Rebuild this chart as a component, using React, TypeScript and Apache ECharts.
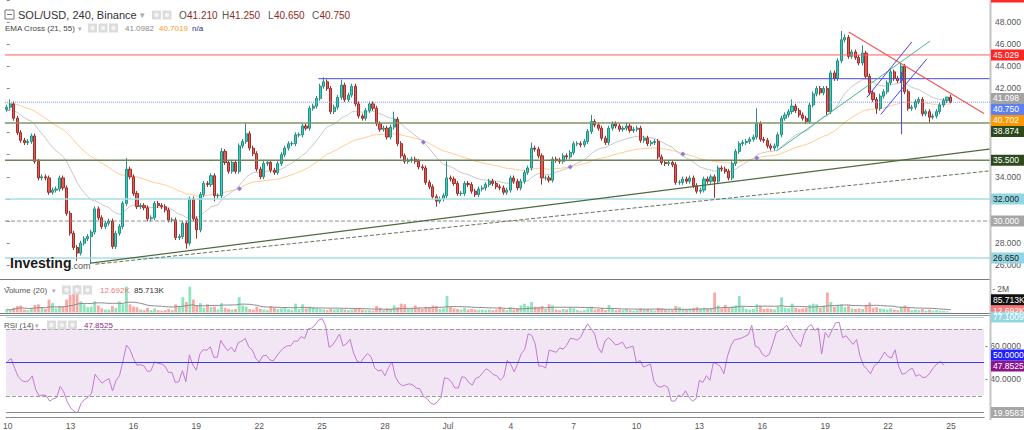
import React, { useEffect, useRef } from "react";
import * as echarts from "echarts";

// ---------- data ----------
const SLOTS = 280;
const START_UTC = Date.UTC(2021, 5, 10, 0, 0, 0);
const MONTHS = ["Jan", "Feb", "Mar", "Apr", "May", "Jun", "Jul", "Aug", "Sep", "Oct", "Nov", "Dec"];

const FIRST_OPEN = 40.1;
const closes = [
  40.3, 40.6, 39.3, 38.0, 37.3, 37.1, 37.2, 37.7, 35.4, 33.9,
  34.0, 33.9, 32.6, 32.8, 32.9, 33.9, 33.0, 30.7, 28.9, 27.6,
  27.1, 28.0, 28.4, 28.6, 29.0, 31.1, 30.3, 29.5, 29.8, 30.0,
  27.7, 28.9, 29.5, 31.6, 34.7, 34.0, 32.5, 31.3, 31.4, 31.2,
  30.2, 30.3, 31.6, 31.4, 31.3, 31.0, 30.1, 30.1, 28.5, 28.6,
  29.8, 28.0, 32.0, 30.2, 29.2, 32.4, 33.4, 33.3, 34.1, 32.3,
  32.3, 36.3, 35.3, 34.5, 35.3, 34.5, 36.8, 37.2, 37.9, 36.6,
  36.1, 34.7, 34.0, 35.2, 35.3, 34.6, 34.4, 35.2, 36.0, 36.6,
  37.0, 37.0, 37.8, 37.8, 38.6, 38.4, 40.2, 40.4, 41.1, 42.2,
  42.6, 42.0, 39.9, 40.3, 41.2, 42.3, 41.0, 41.4, 42.2, 40.6,
  39.5, 39.3, 40.0, 40.6, 40.2, 38.8, 38.3, 38.4, 37.6, 38.5,
  39.2, 37.0, 35.9, 35.4, 35.5, 35.6, 35.4, 34.9, 34.8, 33.5,
  33.1, 32.2, 31.8, 32.0, 32.3, 33.9, 33.8, 33.4, 32.5, 32.5,
  33.4, 33.3, 32.7, 32.4, 32.9, 33.0, 33.3, 33.6, 33.4, 33.1,
  33.0, 32.6, 32.8, 33.9, 33.6, 33.0, 33.6, 34.4, 34.8, 36.6,
  36.5, 35.9, 33.9, 33.9, 33.7, 35.6, 35.5, 35.4, 35.9, 35.8,
  36.2, 37.0, 37.0, 36.9, 37.2, 38.1, 39.0, 38.7, 38.4, 37.5,
  37.1, 38.4, 38.8, 38.6, 38.3, 38.4, 38.6, 38.2, 38.3, 38.4,
  37.3, 37.5, 37.0, 37.1, 37.2, 35.8, 35.3, 35.2, 35.3, 35.1,
  33.5, 33.5, 33.8, 33.6, 33.9, 33.2, 32.7, 32.8, 33.8, 33.6,
  34.0, 33.6, 34.8, 34.7, 34.5, 33.9, 35.2, 36.3, 37.0, 37.1,
  37.2, 37.4, 37.6, 38.8, 37.4, 37.3, 36.8, 36.6, 36.8, 37.8,
  39.3, 39.6, 39.9, 40.4, 40.0, 39.6, 39.3, 39.0, 40.5, 41.5,
  42.0, 41.6, 42.0, 39.9, 43.4, 42.9, 44.5, 46.4, 46.6, 44.9,
  45.3, 44.8, 44.3, 45.2, 43.1, 41.6, 41.0, 40.2, 41.3, 41.7,
  42.5, 43.5, 42.9, 42.7, 44.0, 41.7, 40.2, 40.3, 40.8, 41.0,
  39.7, 39.9, 39.4, 39.5, 39.9, 40.5, 40.9, 41.21, 40.75,
];
const WICK = 0.22;
const highs: Record<number, number> = {
  1: 41.0, 34: 35.7, 61: 36.6, 68: 38.9, 90: 43.0, 95: 42.8, 110: 39.9, 125: 35.4,
  149: 37.1, 166: 39.6, 176: 38.9, 213: 40.2, 223: 41.0, 237: 47.2, 238: 46.9,
  243: 45.9, 254: 44.3, 267: 41.25,
};
const lows: Record<number, number> = {
  20: 26.4, 24: 26.1, 51: 27.5, 54: 28.4, 59: 31.8, 122: 31.3, 152: 33.3, 201: 32.1,
  233: 39.6, 247: 39.7, 262: 38.9, 268: 40.65,
};
const volumes = [
  250, 200, 400, 550, 600, 250, 200, 350, 650, 700,
  450, 300, 1100, 800, 350, 550, 500, 1100, 1500, 1600,
  2300, 950, 700, 450, 500, 950, 600, 350, 250, 250,
  550, 400, 950, 700, 2200, 700, 500, 450, 250, 200,
  400, 200, 350, 200, 150, 200, 300, 200, 700, 500,
  1300, 900, 2200, 1100, 600, 800, 400, 700, 450, 500,
  250, 800, 400, 300, 250, 300, 1300, 600, 500, 300,
  250, 500, 300, 250, 200, 550, 400, 300, 350, 400,
  300, 200, 750, 300, 700, 350, 500, 450, 350, 300,
  250, 200, 300, 250, 300, 300, 250, 200, 250, 300,
  350, 250, 200, 200, 150, 550, 400, 200, 350, 300,
  600, 450, 750, 700, 300, 350, 600, 400, 300, 500,
  450, 600, 550, 300, 350, 1400, 500, 350, 300, 250,
  400, 250, 300, 250, 200, 250, 200, 250, 200, 250,
  500, 300, 200, 450, 250, 350, 600, 750, 550, 900,
  500, 450, 550, 300, 700, 600, 250, 200, 300, 250,
  450, 350, 200, 150, 200, 350, 500, 250, 300, 350,
  200, 650, 350, 200, 250, 200, 300, 200, 150, 200,
  350, 250, 300, 200, 150, 400, 350, 250, 200, 200,
  550, 450, 300, 250, 300, 350, 450, 300, 400, 300,
  350, 1700, 600, 350, 650, 400, 500, 600, 1400, 500,
  300, 250, 300, 700, 550, 300, 350, 300, 250, 500,
  1300, 400, 350, 750, 400, 300, 350, 400, 650, 750,
  700, 400, 600, 1700, 900, 500, 650, 700, 450, 600,
  350, 300, 350, 300, 650, 850, 400, 450, 350, 300,
  250, 350, 250, 200, 500, 600, 400, 200, 250, 200,
  300, 150, 250, 150, 200, 150, 150, 100, 12.692,
];
const EMA21_SEED = 40.0;
const EMA55_SEED = 40.7;
const RSI_SEED_GAIN = 0.45;
const RSI_SEED_LOSS = 0.45;

const priceTicksShown = [48, 46, 44, 42, 34, 28, 26];
const rsiTicksShown = [60, 40];

// drawings: [slotIndex, price]
const supportSolid = [[23.8, 26.19], [279.5, 36.53]];
const supportDashed = [[25.2, 26.1], [279.5, 34.55]];
const downTrend = [[239.1, 47.1], [277.5, 39.74]];
const tealTrend = [[218.6, 36.33], [262.2, 46.29]];
const blueChanA = [[244.2, 41.18], [257.0, 46.2]];
const blueChanB = [[248.2, 39.65], [261.3, 44.68]];
const blueVertical = [[254.1, 43.5], [254.1, 37.86]];
const blueLevel = { from: 88.5, price: 42.88 };
const crossMarks = [[66.1, 32.92], [118.3, 37.14], [160.0, 34.89], [192.0, 36.06], [213.0, 35.7]];

const levels = {
  red: 45.029, last: 40.75, olive1: 38.874, olive2: 35.5, cyan1: 32.0, gray: 30.0, cyan2: 26.65,
};
const ohlc = { o: "41.210", h: "41.250", l: "40.650", c: "40.750" };
const ema21Legend = "41.0982";
const ema55Legend = "40.7019";
const ema21Last = 41.098;
const ema55Last = 40.702;
const volLast = 12.692;
const volSmaLast = 85.713;
const rsiLast = 47.8525;
const rsiMax = 77.1009;
const rsiMin = 19.9583;

// ---------- derived ----------
const categories: string[] = [];
for (let i = 0; i < SLOTS; i++) {
  const d = new Date(START_UTC + i * 4 * 3600 * 1000);
  categories.push(`${d.getUTCMonth() + 1}-${d.getUTCDate()} ${d.getUTCHours()}`);
}
const opens = closes.map((c, i) => (i === 0 ? FIRST_OPEN : closes[i - 1]));
const candleData = closes.map((c, i) => {
  const o = opens[i];
  const h = highs[i] ?? Math.max(o, c) + WICK;
  const l = lows[i] ?? Math.min(o, c) - WICK;
  return [o, c, l, h];
});
function ema(n: number, seed: number) {
  const k = 2 / (n + 1);
  let e = seed;
  return closes.map((c) => (e = e + k * (c - e)));
}
const ema21 = ema(21, EMA21_SEED);
const ema55 = ema(55, EMA55_SEED);
const rsi = (() => {
  let ag = RSI_SEED_GAIN, al = RSI_SEED_LOSS, prev = FIRST_OPEN;
  return closes.map((c) => {
    const ch = c - prev;
    prev = c;
    ag = (ag * 13 + Math.max(ch, 0)) / 14;
    al = (al * 13 + Math.max(-ch, 0)) / 14;
    return 100 - 100 / (1 + ag / al);
  });
})();
const volSma = volumes.map((_, i) => {
  const w = volumes.slice(Math.max(0, i - 19), i + 1);
  return w.reduce((a, b) => a + b, 0) / w.length;
});

const GL = 4.94;
const GW = 3.5222 * SLOTS;
const FONT = "Liberation Sans, Arial, sans-serif";
const AXFS = 8.5;

const labelEvery = (idx: number) => idx % 18 === 0;
const dayLabel = (val: string) => {
  const [md] = val.split(" ");
  const [m, d] = md.split("-");
  return d === "1" ? MONTHS[+m - 1] : d;
};

const hline = (p: number, color: string, type = "solid", width = 1, from = -0.5) => ({
  type: "line", xAxisIndex: 1, yAxisIndex: 0, data: [[from, p], [SLOTS - 0.5, p]],
  symbol: "none", silent: true, z: 5, lineStyle: { color, width, type },
});
const seg = (pts: number[][], color: string, type = "solid", width = 1) => ({
  type: "line", xAxisIndex: 1, yAxisIndex: 0, data: pts, symbol: "none", silent: true, z: 6,
  lineStyle: { color, width, type },
});

const option: any = {
  animation: false,
  backgroundColor: "#ffffff",
  textStyle: { fontFamily: FONT },
  grid: [
    { left: GL, width: GW, top: 20.6 - 2 * 11.115, height: 26 * 11.115 },
    { left: GL, width: GW, top: 312.5 - 2600 * 0.01175, height: 2600 * 0.01175 },
    { left: GL, width: GW, top: 312.2, height: 102.6 },
  ],
  xAxis: [
    { type: "category", gridIndex: 0, data: categories, show: false },
    { type: "value", gridIndex: 0, min: -0.5, max: SLOTS - 0.5, show: false },
    { type: "category", gridIndex: 1, data: categories, show: false },
    {
      type: "category", gridIndex: 2, data: categories, position: "bottom", offset: 4.5,
      axisLine: { lineStyle: { color: "#8a8a8a" } },
      axisTick: { interval: labelEvery, alignWithLabel: true, length: 3, lineStyle: { color: "#8a8a8a" } },
      axisLabel: { interval: labelEvery, formatter: dayLabel, color: "#555", fontSize: AXFS, margin: 4, fontFamily: FONT },
      splitLine: { show: false },
    },
  ],
  yAxis: [
    {
      type: "value", gridIndex: 0, position: "right", min: 24, max: 50, interval: 2,
      axisLine: { show: false }, splitLine: { show: false },
      axisTick: { show: true, length: 3, lineStyle: { color: "#888" } },
      axisLabel: {
        color: "#555", fontSize: AXFS, margin: 4, fontFamily: FONT,
        formatter: (v: number) => (priceTicksShown.includes(v) ? v.toFixed(3) : ""),
      },
    },
    {
      type: "value", gridIndex: 1, position: "right", min: 0, max: 2600, interval: 2000,
      axisLine: { show: false }, splitLine: { show: false },
      axisTick: { show: false },
      axisLabel: { color: "#555", fontSize: AXFS, margin: 1, fontFamily: FONT, showMinLabel: false, showMaxLabel: false,
        formatter: (v: number) => (v === 2000 ? "- 2M" : "") },
    },
    {
      type: "value", gridIndex: 2, position: "right", min: 20, max: 80, interval: 10,
      axisLine: { show: false }, splitLine: { show: false },
      axisTick: { show: false },
      axisLabel: { color: "#555", fontSize: AXFS, margin: 1, fontFamily: FONT,
        formatter: (v: number) => (rsiTicksShown.includes(v) ? "- " + v.toFixed(4) : "") },
    },
  ],
  series: [
    hline(levels.red, "#ff5a5a", "solid", 1),
    hline(blueLevel.price, "#4b4bd8", "solid", 1, blueLevel.from),
    hline(levels.last, "#7b93f2", "dotted", 1),
    hline(levels.olive1, "#7f9468", "solid", 1.5),
    hline(levels.olive2, "#6f8458", "solid", 1.5),
    hline(levels.cyan1, "#a6dde8", "solid", 1.5),
    hline(levels.gray, "#8d8d8d", "dashed", 1),
    hline(levels.cyan2, "#a6dde8", "solid", 1.5),
    seg(supportSolid, "#4e6b3c", "solid", 1.2),
    seg(supportDashed, "#66755a", "dashed", 1),
    seg(downTrend, "#f25757", "solid", 1.2),
    seg(tealTrend, "#49b596", "solid", 1),
    seg(blueChanA, "#4545e6", "solid", 1),
    seg(blueChanB, "#4545e6", "solid", 1),
    seg(blueVertical, "#4545e6", "solid", 1),
    {
      type: "line", xAxisIndex: 0, yAxisIndex: 0, data: ema55, symbol: "none", z: 3, silent: true,
      lineStyle: { color: "#ffcd93", width: 1 },
    },
    {
      type: "line", xAxisIndex: 0, yAxisIndex: 0, data: ema21, symbol: "none", z: 3, silent: true,
      lineStyle: { color: "#c8c8c8", width: 1 },
    },
    {
      type: "candlestick", xAxisIndex: 0, yAxisIndex: 0, data: candleData, barWidth: 2.6, z: 4,
      itemStyle: { color: "#2dd3c3", color0: "#e65a52", borderColor: "#2a8f82", borderColor0: "#9e2f2a", borderWidth: 1 },
    },
    {
      type: "scatter", xAxisIndex: 1, yAxisIndex: 0, data: crossMarks, symbol: "diamond", symbolSize: 5,
      itemStyle: { color: "#6f62d8" }, z: 7, silent: true,
    },
    {
      type: "bar", xAxisIndex: 2, yAxisIndex: 1, barWidth: 2.8, silent: true,
      data: volumes.map((v, i) => ({
        value: v,
        itemStyle: { color: closes[i] >= opens[i] ? "#8fe3bf" : "#f8a9a5" },
      })),
    },
    {
      type: "line", xAxisIndex: 2, yAxisIndex: 1, data: volSma, symbol: "none", silent: true,
      lineStyle: { color: "#8c8c8c", width: 1 },
    },
    {
      type: "line", xAxisIndex: 3, yAxisIndex: 2, data: rsi, symbol: "none", silent: true,
      lineStyle: { color: "#c27bd4", width: 1 },
      markArea: { silent: true, itemStyle: { color: "#f2e5f4" }, data: [[{ yAxis: 30 }, { yAxis: 70 }]] },
      markLine: {
        silent: true, symbol: "none", label: { show: false },
        data: [
          { yAxis: 70, lineStyle: { color: "#9a9a9a", type: "dashed", width: 1 } },
          { yAxis: 30, lineStyle: { color: "#9a9a9a", type: "dashed", width: 1 } },
          { yAxis: 50, lineStyle: { color: "#3b3be8", type: "solid", width: 1 } },
          { yAxis: rsiMax, lineStyle: { color: "#a6dde8", type: "solid", width: 1 } },
          { yAxis: 20, lineStyle: { color: "#8a8a8a", type: "solid", width: 1 } },
        ],
      },
    },
  ],
};

// ---------- graphic helpers ----------
const Z = 100;
const txt = (x: number, y: number, text: string, fill: string, size: number, weight = "normal", align = "left") => ({
  type: "text", x, y, z: Z, silent: true,
  style: { text, fill, font: `${weight} ${size}px ${FONT}`, textAlign: align, textVerticalAlign: "middle" },
});
const rect = (x: number, y: number, w: number, h: number, fill: string) => ({
  type: "rect", z: Z, silent: true, shape: { x, y, width: w, height: h }, style: { fill },
});
const line = (x1: number, y1: number, x2: number, y2: number, stroke: string, w = 1) => ({
  type: "line", z: Z, silent: true, shape: { x1, y1, x2, y2 }, style: { stroke, lineWidth: w },
});
const icons = (x0: number, yc: number, n: number) => {
  const out: any[] = [];
  for (let k = 0; k < n; k++) {
    const x = x0 + k * 10.5;
    out.push(rect(x, yc - 4.5, 9, 9, "#dcdcdc"));
    out.push({ type: "circle", z: Z + 1, silent: true, shape: { cx: x + 4.5, cy: yc, r: 2.2 }, style: { fill: "#f4f4f4" } });
  }
  return out;
};

function staticGraphic() {
  return [
    // separators and right axis bar
    line(0, 279.5, 991, 279.5, "#7a7a7a"),
    line(0, 313.5, 991, 313.5, "#7a7a7a"),
    line(0, 315.5, 991, 315.5, "#9a9a9a"),
    rect(989.5, 0, 2, 420, "#c4c4c4"),
    rect(991, 0, 33, 2.5, "#ff2a2a"),
    // title row
    { type: "rect", z: Z, silent: true, shape: { x: 5, y: 10, width: 9, height: 9 }, style: { fill: "none", stroke: "#777", lineWidth: 1 } },
    line(7, 14.5, 12, 14.5, "#777"),
    txt(18, 15, "SOL/USD, 240, Binance", "#333", 11),
    txt(140, 15, "▾", "#aaa", 9),
    ...icons(152, 15, 2),
    txt(179, 15, "O", "#555", 10), txt(187, 15, ohlc.o, "#8e2a24", 10),
    txt(222, 15, "H", "#555", 10), txt(229.5, 15, ohlc.h, "#8e2a24", 10),
    txt(268, 15, "L", "#555", 10), txt(274, 15, ohlc.l, "#8e2a24", 10),
    txt(312, 15, "C", "#555", 10), txt(319.5, 15, ohlc.c, "#8e2a24", 10),
    // EMA legend
    txt(5, 28, "EMA Cross (21, 55)", "#444", 8),
    txt(78, 28, "▾", "#aaa", 7),
    ...icons(88, 28, 3),
    txt(125, 28, ema21Legend, "#8a8a8a", 8),
    txt(159, 28, ema55Legend, "#ff9a1a", 8),
    txt(192, 28, "n/a", "#1e2a8c", 8),
    // volume legend
    txt(4, 290, "Volume (20)", "#555", 8),
    txt(52, 290, "▾", "#aaa", 7),
    ...icons(62, 290, 3),
    txt(100, 290, volLast.toFixed(3) + "K", "#f07a7a", 8),
    txt(134, 290, volSmaLast.toFixed(3) + "K", "#333", 8),
    // RSI legend
    txt(4, 325, "RSI (14)", "#555", 8),
    txt(35, 325, "▾", "#aaa", 7),
    ...icons(47, 325, 3),
    txt(84, 325, rsiLast.toFixed(4), "#8b2a8b", 8),
    // logo
    txt(10, 263, "Investing", "#1a1a1a", 14, "bold"),
    txt(71, 266, ".com", "#555", 9),
  ];
}

type Badge = { v: number; text: string; bg: string; fg: string; y?: number };

export default function App() {
  const ref = useRef<HTMLDivElement>(null);
  useEffect(() => {
    const chart = echarts.init(ref.current!, undefined, { renderer: "svg", width: 1024, height: 430 });
    chart.setOption(option);
    const H = 11;
    const toY = (axis: number, v: number) => chart.convertToPixel({ yAxisIndex: axis } as any, v) as number;

    const main: Badge[] = [
      { v: levels.red, text: levels.red.toFixed(3), bg: "#ff2424", fg: "#fff" },
      { v: ema21Last, text: ema21Last.toFixed(3), bg: "#a3a3a3", fg: "#fff" },
      { v: levels.last, text: levels.last.toFixed(3), bg: "#5d7ff2", fg: "#fff" },
      { v: ema55Last, text: ema55Last.toFixed(3), bg: "#ff9800", fg: "#fff" },
      { v: levels.olive1, text: levels.olive1.toFixed(3), bg: "#2d4a1c", fg: "#fff" },
      { v: levels.olive2, text: levels.olive2.toFixed(3), bg: "#2d4a1c", fg: "#fff" },
      { v: levels.cyan1, text: levels.cyan1.toFixed(3), bg: "#93d6e3", fg: "#222" },
      { v: levels.gray, text: levels.gray.toFixed(3), bg: "#a6a6a6", fg: "#fff" },
      { v: levels.cyan2, text: levels.cyan2.toFixed(3), bg: "#93d6e3", fg: "#222" },
    ];
    main.forEach((b) => (b.y = toY(0, b.v)));
    main.sort((a, b) => a.y! - b.y!);
    for (let i = 1; i < main.length; i++) if (main[i].y! < main[i - 1].y! + H) main[i].y = main[i - 1].y! + H;

    const vol: Badge[] = [
      { v: volSmaLast, text: volSmaLast.toFixed(3) + "K", bg: "#111", fg: "#fff" },
      { v: volLast, text: volLast.toFixed(3) + "K", bg: "#ff7373", fg: "#fff" },
    ];
    vol.forEach((b) => (b.y = toY(1, b.v)));
    vol.sort((a, b) => b.y! - a.y!);
    vol[0].y = Math.min(vol[0].y!, 310.7);
    for (let i = 1; i < vol.length; i++) if (vol[i].y! > vol[i - 1].y! - H) vol[i].y = vol[i - 1].y! - H;

    const rs: Badge[] = [
      { v: rsiMax, text: rsiMax.toFixed(4), bg: "#93d6e3", fg: "#fff" },
      { v: 50, text: (50).toFixed(4), bg: "#1f1fff", fg: "#fff" },
      { v: rsiLast, text: rsiLast.toFixed(4), bg: "#8b168b", fg: "#fff" },
      { v: rsiMin, text: rsiMin.toFixed(4), bg: "#a6a6a6", fg: "#fff" },
    ];
    rs.forEach((b) => (b.y = toY(2, b.v)));
    rs.sort((a, b) => b.y! - a.y!);
    rs[0].y = Math.min(rs[0].y!, 416);
    for (let i = 1; i < rs.length; i++) if (rs[i].y! > rs[i - 1].y! - H) rs[i].y = rs[i - 1].y! - H;

    const badges: any[] = [];
    [...main, ...vol, ...rs].forEach((b) => {
      badges.push({ type: "rect", z: Z + 2, silent: true, shape: { x: 991, y: b.y! - 5.5, width: 33, height: 11 }, style: { fill: b.bg } });
      badges.push({
        type: "text", x: 993, y: b.y!, z: Z + 3, silent: true,
        style: { text: b.text, fill: b.fg, font: `${AXFS}px ${FONT}`, textAlign: "left", textVerticalAlign: "middle" },
      });
    });

    chart.setOption({ graphic: [...staticGraphic(), ...badges] });
    return () => chart.dispose();
  }, []);
  return (
    <div
      ref={ref}
      style={{ position: "fixed", left: 0, top: 0, width: 1024, height: 430, background: "#fff" }}
    />
  );
}
